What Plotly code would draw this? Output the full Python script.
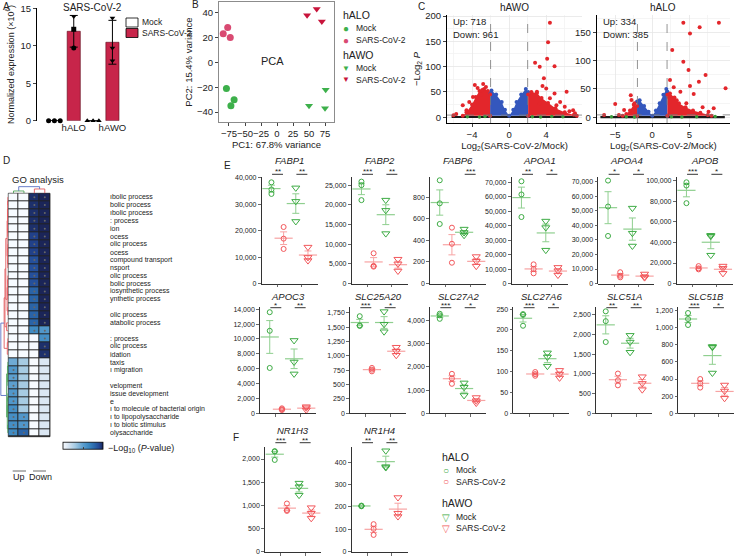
import numpy as np
import plotly.graph_objects as go

W, H = 735, 557
FONT = "Arial, Liberation Sans, sans-serif"

# ---------------- A: SARS-CoV-2 normalized expression (x10^6)
a_labels = ["hALO", "hAWO"]
a_mock_halo = [0.0, 0.0, 0.0]
a_sars_halo = [13.9, 12.2, 9.7]
a_mock_hawo = [0.0, 0.0, 0.0]
a_sars_hawo = [13.7, 9.7, 8.0]
conditions = ["Mock", "SARS-CoV-2"]
models = ["hALO", "hAWO"]

# ---------------- B: PCA
pc1_halo_mock = [-79, -67, -72]
pc2_halo_mock = [-21, -30, -35]
pc1_halo_sars = [-84, -77, -73]
pc2_halo_sars = [23, 28, 20]
pc1_hawo_mock = [50, 76, 75]
pc2_hawo_mock = [-35, -22, -37]
pc1_hawo_sars = [47, 62, 70]
pc2_hawo_sars = [38, 43, 33]

# ---------------- C: volcano plots (cloud outlines + individual genes)
fc_cut = 2.0
p_cut = 4.32
awo_counts = ("Up: 718", "Down: 961")
alo_counts = ("Up: 334", "Down: 385")

awo_black_x = [-6.2, 7.4, 7.4, -6.2]
awo_black_y = [-1.5, -1.5, 2.5, 2.5]
awo_blue_x = [-2.05, -2.05, -1.9, -1.4, -0.8, -0.45, 0, 0.45, 0.8, 1.3, 1.8, 2.05, 2.05]
awo_blue_y = [3, 48, 53, 45, 30, 15, 3, 15, 30, 45, 56, 50, 3]
awo_redL_x = [-2.05, -5.0, -4.6, -4.0, -3.6, -3.2, -2.7, -2.3, -2.05]
awo_redL_y = [3, 3, 10, 25, 40, 52, 56, 52, 45]
awo_redR_x = [2.05, 2.05, 2.4, 3.0, 3.5, 4.2, 5.0, 6.0, 7.0, 7.3]
awo_redR_y = [3, 45, 50, 48, 38, 28, 18, 10, 5, 3]
awo_red_x = [4.4, 4.2, 4.1, 2.8, 3.3, 4.9, 3.75, 4.0, 6.2, 3.0, 4.9, 4.4, 6.0, 6.9, 5.1, 3.3, 3.6,
             5.5, 6.5, 7.1, -3.7, -2.8, -2.9, -5.0, -5.7, -4.3, -3.4, -3.0, -4.6, -6.0, -3.9, -2.5]
awo_red_y = [186.6, 148, 115.6, 107.7, 100, 101, 77, 57, 50.5, 50.5, 47, 37.5, 21, 14, 24, 27.6, 62,
             30, 12, 8, 63.7, 65.7, 53.8, 24, 6.5, 30, 58, 45, 14, 4, 40, 60]
awo_green_x = [-4.5, -3.2, -2.6, 2.5, 3.4, 4.6, 5.8]
awo_green_y = [1, 0.5, 1.5, 1, 0.5, 1.5, 1]

alo_black_x = [-7.0, 9.8, 9.8, -7.0]
alo_black_y = [-1.5, -1.5, 2.5, 2.5]
alo_blue_x = [-2.05, -2.05, -1.7, -1.1, -0.5, 0, 0.5, 1.0, 1.5, 1.9, 2.05, 2.05]
alo_blue_y = [3, 28, 30, 20, 10, 3, 12, 25, 40, 50, 45, 3]
alo_redL_x = [-2.05, -2.05, -2.5, -3.0, -3.5, -4.0]
alo_redL_y = [3, 20, 22, 12, 6, 3]
alo_redR_x = [2.05, 2.05, 2.4, 3.0, 3.6, 4.5, 5.5, 6.5, 7.5, 8.0]
alo_redR_y = [3, 40, 42, 35, 25, 18, 12, 8, 4, 3]
alo_red_x = [4.2, 6.4, 5.1, 9.0, 2.7, 4.2, 4.9, 7.2, 6.3, 5.1, 9.9, 2.4, 2.9, 3.8, 5.6, 8.3, 2.2,
             3.3, 4.6, 6.8, 7.6, -2.9, -2.8, -5.0, -6.5, -4.5, -3.8, -2.4]
alo_red_y = [166.8, 158.7, 148, 166.8, 118.7, 98, 83.4, 74.6, 62.8, 55.2, 51.1, 65.8, 52.9, 45, 41,
             15.9, 36, 30, 25, 18, 10, 39, 30.5, 23.5, 4, 4, 12.9, 25]
alo_green_x = [-5.5, -3.5, -2.4, 2.6, 4.0, 6.0, 8.5]
alo_green_y = [1, 1, 0.5, 1, 0.5, 1, 1.5]

# ---------------- D: GO analysis heatmap (scaled -log10 P), 31 terms x 4 columns
go_terms = ["ıbolic process", "bolic process", "ıbolic process", ": process", "ion", "ocess",
            "olic process", "ocess", "compound transport", "nsport", "olic process", "bolic process",
            "iosynthetic process", "ynthetic process", "", "olic process", "atabolic process", "",
            ": process", "olic process", "idation", "taxis", "ı migration", "", "velopment",
            "issue development", "e", "ı to molecule of bacterial origin", "ı to lipopolysaccharide",
            "ı to biotic stimulus", "olysaccharide"]
go_up_1 = [0] * 21 + [0.45, 0.55, 0.5, 0.5, 0.55, 0.55, 0.6, 0.6, 0.6, 0.62]
go_up_2 = [0] * 21 + [0.3, 0.3, 0.3, 0.3, 0.3, 0.3, 0.3, 0.55, 0.55, 0.8]
go_down_1 = [0.97] * 5 + [0.92] * 3 + [0.87] * 4 + [0.8] * 5 + [0.62] + [0] * 13
go_down_2 = [1.0] * 17 + [0.55, 0.6, 0.97, 0.97] + [0.12] * 10
# row dendrogram: (left node, right node, height, colour)
row_merges = [(0, 1, 0.05, "r"), (2, 3, 0.05, "r"), (31, 32, 0.08, "r"), (4, 5, 0.06, "r"),
              (33, 34, 0.1, "r"), (6, 7, 0.05, "r"), (8, 9, 0.06, "r"), (36, 37, 0.09, "r"),
              (35, 38, 0.14, "r"), (10, 11, 0.05, "r"), (12, 13, 0.05, "r"), (40, 41, 0.1, "r"),
              (14, 15, 0.06, "r"), (42, 43, 0.14, "r"), (39, 44, 0.3, "r"), (16, 17, 0.2, "r"),
              (45, 46, 0.4, "r"), (18, 19, 0.05, "r"), (48, 20, 0.12, "r"), (47, 49, 0.5, "r"),
              (21, 22, 0.05, "g"), (23, 24, 0.05, "g"), (51, 52, 0.1, "g"), (25, 26, 0.05, "g"),
              (27, 28, 0.04, "g"), (54, 55, 0.08, "g"), (29, 30, 0.06, "g"), (56, 57, 0.12, "g"),
              (53, 58, 0.2, "g"), (50, 59, 0.9, "b")]
col_merges = [(0, 1, 0.28, "g"), (2, 3, 0.52, "r"), (4, 5, 0.8, "b")]

# ---------------- E/F: per-gene values, groups = hALO Mock, hALO SARS, hAWO Mock, hAWO SARS
FABP1 = [[38300, 35600, 33900], [21400, 17000, 13100], [36200, 31100, 23500], [13800, 9900, 8700]]
FABP2 = [[25900, 25000, 21200], [7700, 4500, 4300], [21200, 18600, 12700], [6200, 5000, 3200]]
FABP6 = [[955, 742, 551], [517, 368, 193], [504, 472, 447], [250, 206, 161]]
APOA1 = [[70700, 61600, 46000], [13300, 10000, 7100], [43200, 38700, 23100], [11200, 8900, 5900]]
APOA4 = [[70700, 52900, 32700], [7800, 5400, 4300], [51800, 34600, 25800], [6600, 4700, 4100]]
APOB = [[98400, 95200, 78100], [17000, 14800, 13800], [46900, 46000, 27600], [17000, 14800, 9900]]
APOC3 = [[13600, 11100, 6100], [670, 540, 440], [9800, 6900, 5300], [890, 750, 440]]
SLC25A20 = [[1690, 1530, 1520], [790, 760, 730], [1770, 1550, 1420], [1150, 1080, 1010]]
SLC27A2 = [[4290, 4220, 4070], [1700, 1500, 1270], [1310, 1120, 770], [680, 540, 440]]
SLC27A6 = [[238, 236, 210], [99, 94, 90], [145, 135, 113], [103, 94, 85]]
SLC51A = [[2590, 2340, 1810], [1010, 840, 710], [1980, 1810, 1550], [930, 760, 600]]
SLC51B = [[1170, 1100, 1030], [400, 350, 300], [780, 770, 470], [330, 260, 175]]
NR1H3 = [[2170, 2160, 1980], [1040, 900, 880], [1480, 1400, 1220], [950, 830, 720]]
NR1H4 = [[206, 204, 203], [123, 102, 75], [451, 380, 376], [242, 172, 157]]

genes = ["FABP1", "FABP2", "FABP6", "APOA1", "APOA4", "APOB", "APOC3", "SLC25A20", "SLC27A2",
         "SLC27A6", "SLC51A", "SLC51B", "NR1H3", "NR1H4"]
gene_values = [FABP1, FABP2, FABP6, APOA1, APOA4, APOB, APOC3, SLC25A20, SLC27A2, SLC27A6,
               SLC51A, SLC51B, NR1H3, NR1H4]
gene_ymax = [40500, 27200, 990, 74000, 73500, 104000, 14300, 1850, 4580, 255, 2700, 1240, 2270, 470]
gene_dtick = [10000, 5000, 200, 10000, 10000, 20000, 2000, 250, 1000, 50, 500, 200, 500, 100]
gene_sig = [("**", "**"), ("***", "**"), ("", "***"), ("**", "*"), ("*", "*"), ("***", "*"),
            ("*", "**"), ("***", "*"), ("***", "*"), ("***", "*"), ("**", "**"), ("***", "*"),
            ("***", "**"), ("**", "**")]

# ---------------- helpers
def xdom(a, b):
    return [a / W, b / W]


def ydom(top, bottom):
    return [1 - bottom / H, 1 - top / H]


def py(p):
    return 1 - p / H


def sd(v):
    return float(np.std(v, ddof=1))


def dendro(n, merges, along_leaf):
    pos = list(range(n))
    hgt = [0.0] * n
    segs = {}
    for a, b, h, c in merges:
        hs = [hgt[a], h, h, hgt[b], None]
        ps = [pos[a], pos[a], pos[b], pos[b], None]
        s = segs.setdefault(c, ([], []))
        if along_leaf:
            s[0].extend(ps)
            s[1].extend(hs)
        else:
            s[0].extend(hs)
            s[1].extend(ps)
        pos.append((pos[a] + pos[b]) / 2)
        hgt.append(h)
    return segs


GREEN = "#3dab44"
RED = "#f2575b"
GREEN_L = "#8fcf8f"
RED_L = "#f7a3a3"
CRIMSON = "#c7254a"
VRED = "#e3262b"
VBLUE = "#3457bd"
DCOL = {"r": "#e25a5e", "g": "#4ea25a", "b": "#5a70c4"}
TXT = "#222222"

fig = go.Figure()
layout = {}
ann = []
shapes = []


def text(x, y, s, size=9, xref="paper", yref="paper", **kw):
    d = dict(x=x, y=y, text=s, xref=xref, yref=yref, showarrow=False, xanchor="center", yanchor="middle",
             font=dict(size=size, color=kw.pop("color", TXT), family=FONT))
    d.update(kw)
    ann.append(d)


def key(x, y, glyph, color, label, gsize=9, gap=8):
    # legend entry: coloured glyph centred at x, label to its right
    text(x / W, py(y), glyph, size=gsize, color=color)
    text((x + gap) / W, py(y), label, size=8.5, xanchor="left")


# ================= A
fig.add_bar(x=[0, 2], y=[np.mean(a_mock_halo), np.mean(a_mock_hawo)], width=0.68,
            marker=dict(color="white", line=dict(color="black", width=1)), xaxis="x", yaxis="y")
fig.add_bar(x=[1, 3], y=[np.mean(a_sars_halo), np.mean(a_sars_hawo)], width=0.68,
            marker=dict(color=CRIMSON, line=dict(color="#5a0a1a", width=0.6)),
            error_y=dict(type="data", array=[sd(a_sars_halo), sd(a_sars_hawo)], color="black",
                         thickness=1, width=4),
            xaxis="x", yaxis="y")
for xs, vals, sym in [([-0.3, 0, 0.3], a_mock_halo, "circle"),
                      ([1, 1, 1], a_sars_halo, ["triangle-down", "square", "circle"]),
                      ([1.7, 2, 2.3], a_mock_hawo, "triangle-up"),
                      ([3, 3, 3], a_sars_hawo, "triangle-down")]:
    fig.add_scatter(x=xs, y=vals, mode="markers", cliponaxis=False,
                    marker=dict(symbol=sym, size=5, color="black"), xaxis="x", yaxis="y")
layout["xaxis"] = dict(domain=xdom(37, 125), range=[-0.9, 3.65], tickvals=[1, 3], ticktext=a_labels,
                       ticks="", showline=False, tickfont=dict(size=9.5), anchor="y", tickangle=0)
layout["yaxis"] = dict(domain=ydom(8.3, 120.7), range=[0, 15], tickvals=[0, 5, 10, 15], ticks="outside",
                       ticklen=3, showline=True, linecolor="black", tickfont=dict(size=9.5), anchor="x",
                       title=dict(text="Normalized expression (×10<sup>6</sup>)", font=dict(size=9),
                                  standoff=4))
text(92 / W, py(7), "SARS-CoV-2", size=10)
for (y0, y1), col, lab in zip(((18, 27), (28.5, 37.5)), ("white", CRIMSON), conditions):
    shapes.append(dict(type="rect", xref="paper", yref="paper", x0=126 / W, x1=138 / W, y0=py(y1), y1=py(y0),
                       fillcolor=col, line=dict(color="black", width=0.8)))
    text(139.5 / W, py((y0 + y1) / 2), lab, size=8.5, xanchor="left")

# ================= B
for x, y, sym, col in [(pc1_halo_mock, pc2_halo_mock, "circle", "#3db04b"),
                       (pc1_halo_sars, pc2_halo_sars, "circle", "#d94a72"),
                       (pc1_hawo_mock, pc2_hawo_mock, "triangle-down", "#3db04b"),
                       (pc1_hawo_sars, pc2_hawo_sars, "triangle-down", "#c8143b")]:
    fig.add_scatter(x=x, y=y, mode="markers", marker=dict(symbol=sym, size=7, color=col),
                    xaxis="x2", yaxis="y2")
layout["xaxis2"] = dict(domain=xdom(219, 334), range=[-90.6, 89], tickvals=[-75, -50, -25, 0, 25, 50, 75],
                        ticks="outside", ticklen=3, showline=True, mirror=True, linecolor="#8c8c8c",
                        anchor="y2", tickfont=dict(size=9.5), tickangle=0,
                        title=dict(text="PC1: 67.8% variance", font=dict(size=9.5), standoff=2))
layout["yaxis2"] = dict(domain=ydom(2, 122), range=[-48, 48.6], tickvals=[-40, -20, 0, 20, 40],
                        ticks="outside", ticklen=3, showline=True, mirror=True, linecolor="#8c8c8c",
                        anchor="x2", tickfont=dict(size=9.5),
                        title=dict(text="PC2: 15.4% variance", font=dict(size=9.5), standoff=2))
text(-7, 1, "PCA", size=11, xref="x2", yref="y2")
text(341 / W, py(15), models[0], size=10.5, xanchor="left")
key(346, 28, "●", "#3db04b", conditions[0], gsize=10)
key(346, 40, "●", "#d94a72", conditions[1], gsize=10)
text(341 / W, py(55), models[1], size=10.5, xanchor="left")
key(346, 68, "▼", "#3db04b", conditions[0], gsize=8)
key(346, 80, "▼", "#c8143b", conditions[1], gsize=8)

# ================= C
def volcano(xa, ya, black, blue, redL, redR, red, green):
    poly = dict(mode="lines", fill="toself", line=dict(width=0), xaxis=xa, yaxis=ya)
    fig.add_scatter(x=black[0], y=black[1], fillcolor="#1a1a1a", **poly)
    fig.add_scatter(x=blue[0], y=blue[1], fillcolor=VBLUE, **poly)
    fig.add_scatter(x=redL[0], y=redL[1], fillcolor=VRED, **poly)
    fig.add_scatter(x=redR[0], y=redR[1], fillcolor=VRED, **poly)
    fig.add_scatter(x=blue[0], y=blue[1], mode="markers", marker=dict(size=4, color=VBLUE),
                    xaxis=xa, yaxis=ya)
    fig.add_scatter(x=redL[0] + redR[0], y=redL[1] + redR[1], mode="markers", marker=dict(size=4, color=VRED),
                    xaxis=xa, yaxis=ya)
    fig.add_scatter(x=green[0], y=green[1], mode="markers", marker=dict(size=3.5, color="#3a9a3a"),
                    xaxis=xa, yaxis=ya)
    fig.add_scatter(x=red[0], y=red[1], mode="markers", marker=dict(size=4, color=VRED),
                    xaxis=xa, yaxis=ya)
    for v in (-fc_cut, fc_cut):
        shapes.append(dict(type="line", xref=xa, yref=ya + " domain", x0=v, x1=v, y0=0, y1=1,
                           line=dict(color="#777", width=0.8, dash="dash")))
    shapes.append(dict(type="line", xref=xa + " domain", yref=ya, x0=0, x1=1, y0=p_cut, y1=p_cut,
                       line=dict(color="#777", width=0.8, dash="dash")))


volcano("x3", "y3", (awo_black_x, awo_black_y), (awo_blue_x, awo_blue_y), (awo_redL_x, awo_redL_y),
        (awo_redR_x, awo_redR_y), (awo_red_x, awo_red_y), (awo_green_x, awo_green_y))
volcano("x4", "y4", (alo_black_x, alo_black_y), (alo_blue_x, alo_blue_y), (alo_redL_x, alo_redL_y),
        (alo_redR_x, alo_redR_y), (alo_red_x, alo_red_y), (alo_green_x, alo_green_y))


def vax(**kw):
    d = dict(showline=True, linecolor="black", ticks="outside", ticklen=3, tickfont=dict(size=9.5),
             showgrid=True, gridcolor="#e6e6e6", gridwidth=0.8, tickangle=0)
    d.update(kw)
    return d


xt = dict(text="Log<sub>2</sub>(SARS-CoV-2/Mock)", font=dict(size=9.5), standoff=2)
layout["xaxis3"] = vax(domain=xdom(447, 582), range=[-6.7, 7.86], tickvals=[-4, 0, 4], anchor="y3",
                       minor=dict(tickvals=[-6, -2, 2, 6], showgrid=True, gridcolor="#f2f2f2"), title=xt)
layout["yaxis3"] = vax(domain=ydom(15, 123), range=[-11.3, 202], tickvals=[0, 50, 100, 150, 200], anchor="x3",
                       minor=dict(tickvals=[25, 75, 125, 175], showgrid=True, gridcolor="#f2f2f2"),
                       title=dict(text="−Log<sub>2</sub> <i>P</i>", font=dict(size=9.5), standoff=2))
layout["xaxis4"] = vax(domain=xdom(596.7, 730), range=[-7.5, 10.5], tickvals=[-5, 0, 5], anchor="y4",
                       minor=dict(tickvals=[-7.5, -2.5, 2.5, 7.5], showgrid=True, gridcolor="#f2f2f2"),
                       title=xt)
layout["yaxis4"] = vax(domain=ydom(15, 123), range=[-10, 180.5], tickvals=[0, 50, 100, 150], anchor="x4",
                       minor=dict(tickvals=[25, 75, 125, 175], showgrid=True, gridcolor="#f2f2f2"))
text(0.5, py(7), "hAWO", size=10, xref="x3 domain")
text(0.5, py(7), "hALO", size=10, xref="x4 domain")
for xa, cnt in (("x3", awo_counts), ("x4", alo_counts)):
    text(0.03, py(21), cnt[0], size=9.5, xref=xa + " domain", xanchor="left")
    text(0.03, py(34), cnt[1], size=9.5, xref=xa + " domain", xanchor="left")

# ================= D
z = np.array([go_up_1, go_up_2, go_down_1, go_down_2]).T
cscale = [[0, "#f7fbff"], [0.12, "#dbe7f3"], [0.3, "#a6cbe3"], [0.5, "#5c9fcf"], [0.65, "#3a87c0"],
          [0.8, "#2a64a8"], [0.9, "#234896"], [1.0, "#1b2558"]]
shapes.append(dict(type="rect", xref="x5 domain", yref="y5 domain", x0=0, x1=1, y0=0, y1=1,
                   fillcolor="#222", line=dict(width=0.8, color="#222"), layer="below"))
fig.add_heatmap(z=z.tolist(), x=[0, 1, 2, 3], y=list(range(len(go_terms))), colorscale=cscale, zmin=0, zmax=1,
                xgap=1, ygap=1, xaxis="x5", yaxis="y5",
                colorbar=dict(orientation="h", x=63 / W, xanchor="left", y=py(452), yanchor="bottom",
                              len=40, lenmode="pixels", thickness=7, outlinewidth=0.8, outlinecolor="black",
                              tickvals=[0.5], ticks="inside", ticklen=2, showticklabels=False,
                              xpad=0, ypad=0))
rr, cc = np.where(z >= 0.5)
fig.add_scatter(x=cc.tolist(), y=rr.tolist(), mode="markers", marker=dict(size=2, color="#666"),
                xaxis="x5", yaxis="y5")
for c, (xs, ys) in dendro(len(go_terms), row_merges, False).items():
    fig.add_scatter(x=xs, y=ys, mode="lines", line=dict(color=DCOL[c], width=0.9),
                    xaxis="x6", yaxis="y6", cliponaxis=False)
for c, (xs, ys) in dendro(4, col_merges, True).items():
    fig.add_scatter(x=xs, y=ys, mode="lines", line=dict(color=DCOL[c], width=0.9),
                    xaxis="x7", yaxis="y7", cliponaxis=False)
hid = dict(visible=False)
nrow = len(go_terms)
layout["xaxis5"] = dict(domain=xdom(8.3, 50), range=[-0.5, 3.5], anchor="y5", **hid)
layout["yaxis5"] = dict(domain=ydom(193.3, 436.7), range=[nrow - 0.5, -0.5], anchor="x5", **hid)
layout["xaxis6"] = dict(domain=xdom(0, 8.3), range=[1.0, 0], anchor="y6", **hid)
layout["yaxis6"] = dict(domain=ydom(193.3, 436.7), range=[nrow - 0.5, -0.5], anchor="x6", **hid)
layout["xaxis7"] = dict(domain=xdom(8.3, 50), range=[-0.5, 3.5], anchor="y7", **hid)
layout["yaxis7"] = dict(domain=ydom(185, 193.3), range=[0, 1], anchor="x7", **hid)
for i, t in enumerate(go_terms):
    if t:
        text(108 / W, i, t, size=7, yref="y5", xanchor="left")
text(10 / W, py(179), "GO analysis", size=9.5, xanchor="left")
text(106 / W, py(448), "−Log<sub>10</sub> (<i>P</i>-value)", size=9, xanchor="left")
text(19 / W, py(477), "Up", size=9)
text(40 / W, py(477), "Down", size=9)
for a, b in ((12.7, 26), (33, 46)):
    shapes.append(dict(type="line", xref="paper", yref="paper", x0=a / W, x1=b / W, y0=py(471), y1=py(471),
                       line=dict(color="#444", width=0.8)))

# ================= E / F
gene_left = [261.7, 351.7, 430, 511.7, 598.3, 676.7, 260, 350, 430, 513.3, 596, 678.3, 265, 351.7]
rows = [(176.5, 283.6, 161, 174.3), (307, 413.3, 296, 307.7), (446.5, 551.7, 430, 442.7)]
gene_row = [0] * 6 + [1] * 6 + [2] * 2
for k, g in enumerate(genes):
    n = 8 + k
    xa, ya = "x%d" % n, "y%d" % n
    top, bot, ttl, sigy = rows[gene_row[k]]
    for gi, vals in enumerate(gene_values[k]):
        col = GREEN if gi % 2 == 0 else RED
        light = GREEN_L if gi % 2 == 0 else RED_L
        m = float(np.mean(vals))
        sem = sd(vals) / np.sqrt(len(vals))
        fig.add_scatter(x=[gi + 1], y=[m], mode="markers", cliponaxis=False,
                        marker=dict(symbol="line-ew", size=13, color=light, line=dict(width=1.2, color=light)),
                        error_y=dict(type="data", array=[sem], color=light, thickness=1, width=3.5),
                        xaxis=xa, yaxis=ya)
        sym = "circle-open" if gi < 2 else "triangle-down-open"
        fig.add_scatter(x=[gi + 1] * len(vals), y=vals, mode="markers", cliponaxis=False,
                        marker=dict(symbol=sym, size=5 if gi < 2 else 7, color=col, line=dict(width=1, color=col)),
                        xaxis=xa, yaxis=ya)
    L = gene_left[k]
    layout["xaxis%d" % n] = dict(domain=xdom(L, L + 56), range=[0.2, 4.8], tickvals=[1.5, 3.5], anchor=ya,
                                 showticklabels=False, ticks="outside", ticklen=3, showline=True,
                                 linecolor="black", linewidth=0.8, tickwidth=0.8)
    layout["yaxis%d" % n] = dict(domain=ydom(top, bot), range=[0, gene_ymax[k]], tick0=0, dtick=gene_dtick[k],
                                 tickformat=",", ticks="outside", ticklen=3, showline=True, anchor=xa,
                                 linecolor="black", linewidth=0.8, tickwidth=0.8, tickfont=dict(size=7))
    text(0.5, py(ttl), "<i>%s</i>" % g, size=9.5, xref=xa + " domain")
    for (x0, x1), s in zip(((1.05, 1.95), (3.05, 3.95)), gene_sig[k]):
        if s:
            shapes.append(dict(type="line", xref=xa, yref="paper", x0=x0, x1=x1, y0=py(sigy), y1=py(sigy),
                               line=dict(color="black", width=0.8)))
            text((x0 + x1) / 2, py(sigy), s, size=8, xref=xa, yanchor="bottom", yshift=-4)

# legend for E/F
text(440 / W, py(457), models[0], size=10.5, xanchor="left")
key(446, 470, "○", GREEN, conditions[0], gsize=10)
key(446, 482, "○", RED, conditions[1], gsize=10)
text(440 / W, py(503), models[1], size=10.5, xanchor="left")
key(446, 517, "▽", GREEN, conditions[0], gsize=10)
key(446, 528, "▽", RED, conditions[1], gsize=10)

# panel letters
for s, x, y in (("A", 1, 6), ("B", 190, 4), ("C", 416, 6), ("D", 1, 161), ("E", 222, 166), ("F", 231, 437)):
    text(x / W, py(y), s, size=10, xanchor="left")

for k in layout:
    layout[k].setdefault("zeroline", False)
    layout[k].setdefault("showgrid", False)
    layout[k]["automargin"] = False

fig.update_traces(showlegend=False)
fig.update_layout(
    width=W, height=H, margin=dict(l=0, r=0, t=0, b=0, autoexpand=False), paper_bgcolor="white",
    plot_bgcolor="white", font=dict(family=FONT, color=TXT), barmode="overlay", showlegend=False,
    hovermode=False, annotations=ann, shapes=shapes, **layout)
# the page's default body margin would push the 735x557 figure off the window
fig.write_html("out.html", config={"displayModeBar": False, "staticPlot": True},
               post_script="document.body.style.margin='0';")
